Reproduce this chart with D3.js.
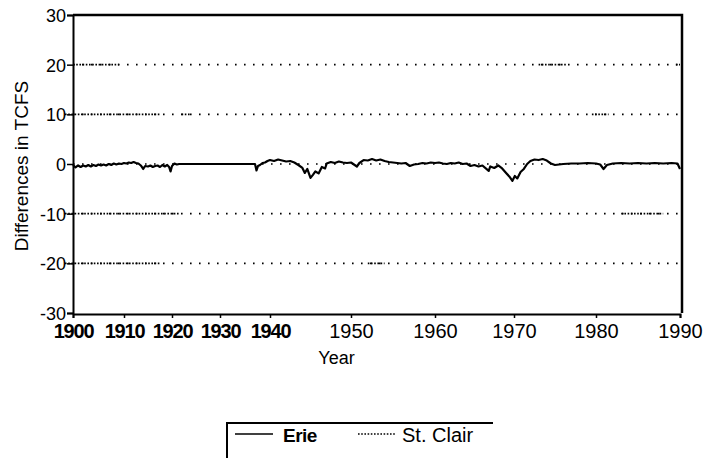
<!DOCTYPE html>
<html lang="en">
<head>
<meta charset="utf-8">
<script src="https://d3js.org/d3.v7.min.js"></script>
<style>
  body { margin: 0; background: #fff; }
  svg text { font-family: "Liberation Sans", Arial, sans-serif; fill: #000; }
</style>
</head>
<body>
<svg id="chart" width="707" height="458"></svg>
<script>
// tick labels on the year axis (the scanned axis is not evenly spaced)
var yearTicks = [1900, 1910, 1920, 1930, 1940, 1950, 1960, 1970, 1980, 1990]
var yTicks = [30, 20, 10, 0, -10, -20, -30]

// Erie differences, [year, TCFS]
var erie = [
  [1900,-0.2],[1900.5,-0.7],[1901,-0.3],[1901.5,-0.6],[1902,-0.3],[1902.5,-0.5],[1903,-0.2],[1903.5,-0.5],
  [1904,-0.2],[1904.5,-0.4],[1905,-0.1],[1905.5,-0.3],[1906,-0.1],[1906.5,-0.3],[1907,0.0],[1907.5,-0.2],
  [1908,0.1],[1908.5,-0.1],[1909,0.1],[1909.5,0.0],[1910,0.2],[1910.5,0.1],[1911,0.3],[1911.5,0.2],
  [1912,0.4],[1912.5,0.2],[1913,0.1],[1913.5,-0.3],[1914,-1.0],[1914.4,-0.4],[1915,-0.5],[1915.5,-0.3],
  [1916,-0.6],[1916.5,-0.4],[1917,-0.3],[1917.5,-0.6],[1918,-0.2],[1918.5,-0.5],[1919,-0.2],[1919.4,-0.6],
  [1919.7,-1.5],[1920,-0.4],[1920.5,0.1],[1921,-0.1],[1921.5,0.0],
  [1929,0.0],[1937,0.0],
  [1937.3,-1.3],[1937.6,-0.4],[1938,-0.2],[1938.5,0.2],[1939,0.3],[1939.5,0.6],[1940,0.8],[1940.5,0.6],
  [1941,0.9],[1941.5,0.7],[1942,0.5],[1942.5,0.6],[1943,0.3],[1943.5,-0.2],[1944,-0.8],[1944.3,-1.8],
  [1944.6,-1.0],[1945,-2.8],[1945.3,-2.2],[1945.6,-1.5],[1946,-1.9],[1946.4,-0.6],[1946.8,-0.9],[1947,0.1],
  [1947.5,0.4],[1948,0.2],[1948.5,0.5],[1949,0.3],[1949.5,0.2],[1950,0.3],[1950.7,-0.5],[1951,0.2],
  [1951.5,0.8],[1952,0.7],[1952.5,1.0],[1953,0.7],[1953.5,0.9],[1954,0.6],[1954.5,0.4],[1955,0.3],
  [1955.5,0.2],[1956,0.1],[1956.5,0.2],[1957,-0.4],[1957.5,-0.1],[1958,0.0],[1958.5,0.2],[1959,0.1],
  [1959.5,0.3],[1960,0.2],[1960.5,0.3],[1961,0.1],[1961.5,0.0],[1962,0.2],[1962.5,0.1],[1963,0.3],
  [1963.5,0.0],[1964,0.1],[1964.5,-0.4],[1965,-0.2],[1965.5,-0.5],[1966,-0.3],[1966.8,-1.4],[1967,-0.5],
  [1967.5,-0.8],[1968,-0.3],[1968.5,-0.9],[1969,-1.8],[1969.4,-2.5],[1969.8,-3.4],[1970.1,-2.4],[1970.4,-2.9],
  [1970.8,-1.6],[1971.2,-1.0],[1971.6,0.0],[1972,0.6],[1972.5,0.9],[1973,0.8],[1973.5,1.0],[1974,0.7],
  [1974.5,0.1],[1975,-0.2],[1975.5,-0.1],[1976,0.0],[1977,0.1],[1978,0.1],[1979,0.2],[1980,0.1],
  [1980.5,-0.1],[1980.9,-1.0],[1981.3,-0.2],[1982,0.1],[1983,0.2],[1984,0.1],[1985,0.2],[1986,0.1],
  [1987,0.2],[1988,0.1],[1989,0.2],[1989.7,0.1],[1990,-1.0]
]

// St. Clair dotted traces, with the stretches where the dots run dense
var stClairLevels = [20, 10, 0, -10, -20]
var stClairDense = [
  [[1900,1909],[1973,1976.5],[1989.5,1990]],
  [[1898.5,1917.5],[1922,1924],[1979.5,1981.5]],
  [],
  [[1898.5,1921.5],[1983,1988]],
  [[1898.5,1917.5],[1952,1954]]
]

var svg = d3.select("#chart")
svg.append("rect").attr("width", 707).attr("height", 458).attr("fill", "#fff")

var x = d3.scaleLinear()
    .domain(yearTicks)
    .range([73, 124, 172, 220, 270, 351, 435, 514, 596, 680])
var y = d3.scaleLinear().domain([-30, 30]).range([313, 15])

// frame
svg.append("path")
    .attr("d", "M" + x(1900) + "," + y(30) + "H" + (x(1990) + 2) + "V" + y(-30))
    .attr("fill", "none").attr("stroke", "#000").attr("stroke-width", 2.5)

var yAxis = svg.append("g").attr("transform", "translate(" + x(1900) + ",0)")
    .call(d3.axisLeft(y).tickValues(yTicks).tickSize(6).tickPadding(1).tickFormat(d => String(d)))
yAxis.select(".domain").attr("stroke-width", 2)
yAxis.selectAll("text").style("font-size", "18px").attr("dy", "0.36em")
yAxis.selectAll("line").attr("stroke-width", 1.5)

var xAxis = svg.append("g").attr("transform", "translate(0," + (y(-30) + 1) + ")")
    .call(d3.axisBottom(x).tickValues(yearTicks).tickSize(4).tickPadding(6).tickFormat(d => String(d)))
xAxis.select(".domain").attr("stroke-width", 2)
xAxis.selectAll("text").style("font-size", "20px")
    .style("font-weight", d => d <= 1940 ? "bold" : "normal")
    .style("letter-spacing", d => d <= 1940 ? "-1.2px" : "0px")
xAxis.selectAll("line").attr("stroke-width", 1.5)

// St. Clair
var lvl = svg.append("g").selectAll("g").data(stClairLevels).enter().append("g")
lvl.append("line")
    .attr("x1", x(1900)).attr("x2", x(1990) - 2)
    .attr("y1", d => y(d)).attr("y2", d => y(d))
    .attr("stroke", "#000").attr("stroke-width", 1.6).attr("stroke-dasharray", "1.6,7.4")
lvl.selectAll("line.dense").data((d, i) => stClairDense[i].map(r => ({v: d, r: r}))).enter()
    .append("line").attr("class", "dense")
    .attr("x1", d => x(Math.max(d.r[0], 1900)) - (d.r[0] < 1900 ? 8 : 0))
    .attr("x2", d => x(d.r[1]))
    .attr("y1", d => y(d.v)).attr("y2", d => y(d.v))
    .attr("stroke", "#000").attr("stroke-width", 1.6).attr("stroke-dasharray", "1.6,1.6")

// Erie
svg.append("path").datum(erie)
    .attr("d", d3.line().x(d => x(d[0])).y(d => y(d[1])))
    .attr("fill", "none").attr("stroke", "#000").attr("stroke-width", 2.2)
    .attr("stroke-linejoin", "round")

svg.append("text").attr("x", (x(1940) + x(1960)) / 2 - 16).attr("y", 364)
    .attr("text-anchor", "middle").style("font-size", "18px").text("Year")
svg.append("text").attr("transform", "translate(28," + (y(0) + 2) + ") rotate(-90)")
    .attr("text-anchor", "middle").style("font-size", "19px").text("Differences in TCFS")

// legend
var lg = svg.append("g")
lg.append("path").attr("d", "M227,458V423H493").attr("fill", "none").attr("stroke", "#000").attr("stroke-width", 2)
lg.append("line").attr("x1", 235).attr("x2", 273).attr("y1", 434).attr("y2", 434)
    .attr("stroke", "#000").attr("stroke-width", 1.5)
lg.append("text").attr("x", 283).attr("y", 442).style("font-size", "19px").style("font-weight", "bold")
    .style("letter-spacing", "-0.5px").text("Erie")
lg.append("line").attr("x1", 358).attr("x2", 396).attr("y1", 434).attr("y2", 434)
    .attr("stroke", "#000").attr("stroke-width", 1.6).attr("stroke-dasharray", "1.6,1.6")
lg.append("text").attr("x", 402).attr("y", 442).style("font-size", "20px").text("St. Clair")
</script>
</body>
</html>
